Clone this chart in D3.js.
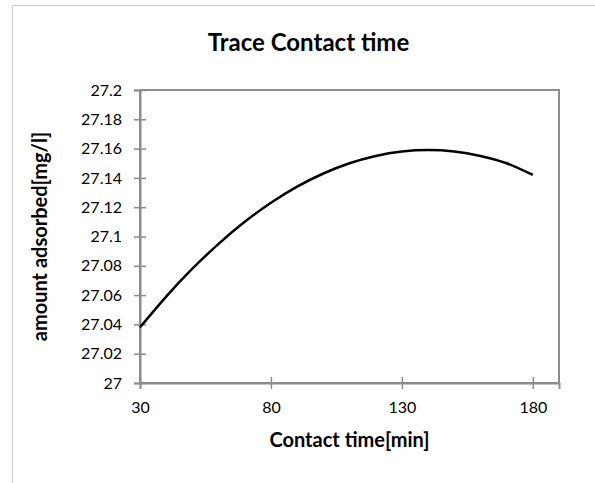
<!DOCTYPE html>
<html>
<head>
<meta charset="utf-8">
<script src="https://cdn.jsdelivr.net/npm/d3@7"></script>
<style>
  body { margin: 0; background: #fff; }
  svg { display: block; font-family: Lato, "Open Sans", sans-serif; }
</style>
</head>
<body>
<div id="chart"></div>
<script>
// values
var contactTime = [30, 40, 50, 60, 70, 80, 90, 100, 110, 120, 130, 140, 150, 160, 170, 180];
var amountAdsorbed = [27.038, 27.059, 27.078, 27.095, 27.110, 27.123, 27.134, 27.143,
                      27.150, 27.155, 27.158, 27.159, 27.158, 27.155, 27.150, 27.142];
var xTickValues = [30, 80, 130, 180];
var yTickValues = [27, 27.02, 27.04, 27.06, 27.08, 27.1, 27.12, 27.14, 27.16, 27.18, 27.2];

var chartTitle = "Trace Contact time",
    xTitle = "Contact time[min]",
    yTitle = "amount adsorbed[mg/l]";

var width = 595,
    height = 483,
    plot = { left: 140, top: 90, right: 559, bottom: 383 };

var svg = d3.select("#chart")
    .append("svg")
    .attr("width", width)
    .attr("height", height);

// outer chart frame (runs off the page on the right and bottom)
svg.append("rect")
    .attr("x", 12.5)
    .attr("y", 5.5)
    .attr("width", 700)
    .attr("height", 700)
    .attr("fill", "none")
    .attr("stroke", "#c8c8c8")
    .attr("stroke-width", 1);

let x = d3.scaleLinear()
    .domain([30, 190])
    .range([plot.left, plot.right]);

let y = d3.scaleLinear()
    .domain([27, 27.2])
    .range([plot.bottom, plot.top]);

// plot area border
svg.append("rect")
    .attr("x", plot.left)
    .attr("y", plot.top)
    .attr("width", plot.right - plot.left)
    .attr("height", plot.bottom - plot.top)
    .attr("fill", "none")
    .attr("stroke", "#8c8c8c")
    .attr("stroke-width", 2);

// y axis with ticks crossing the axis line
let yAxis = svg.append("g")
    .attr("transform", "translate(" + plot.left + ",0)")
    .call(d3.axisLeft(y)
        .tickValues(yTickValues)
        .tickSize(6)
        .tickPadding(12)
        .tickFormat(function(d) { return String(+d.toFixed(2)); }));

// x axis
let xAxis = svg.append("g")
    .attr("transform", "translate(0," + plot.bottom + ")")
    .call(d3.axisBottom(x)
        .tickValues(xTickValues)
        .tickSize(6)
        .tickPadding(13));

[yAxis, xAxis].forEach(function(ax) {
    ax.select(".domain").attr("stroke", "#8c8c8c").attr("stroke-width", 2);
    ax.selectAll(".tick text")
        .attr("fill", "#000")
        .style("font-size", "16px")
        .style("font-family", "Lato, sans-serif");
});
yAxis.selectAll(".tick line").attr("x1", -6).attr("x2", 6).attr("stroke", "#8c8c8c").attr("stroke-width", 1.5);
xAxis.selectAll(".tick line").attr("y1", -6).attr("y2", 6).attr("stroke", "#8c8c8c").attr("stroke-width", 1.5);

// the trace
let line = d3.line()
    .x(function(d, i) { return x(contactTime[i]); })
    .y(function(d) { return y(d); })
    .curve(d3.curveNatural);

svg.append("path")
    .datum(amountAdsorbed)
    .attr("d", line)
    .attr("fill", "none")
    .attr("stroke", "#000")
    .attr("stroke-width", 2.5);

// titles
svg.append("text")
    .attr("x", 308.5)
    .attr("y", 51)
    .attr("text-anchor", "middle")
    .style("font-size", "24px")
    .style("font-weight", "bold")
    .text(chartTitle);

svg.append("text")
    .attr("x", (plot.left + plot.right) / 2)
    .attr("y", 447)
    .attr("text-anchor", "middle")
    .style("font-size", "20px")
    .style("font-weight", "bold")
    .text(xTitle);

svg.append("text")
    .attr("transform", "translate(47," + (plot.top + plot.bottom) / 2 + ") rotate(-90)")
    .attr("text-anchor", "middle")
    .style("font-size", "20px")
    .style("font-weight", "bold")
    .text(yTitle);
</script>
</body>
</html>
